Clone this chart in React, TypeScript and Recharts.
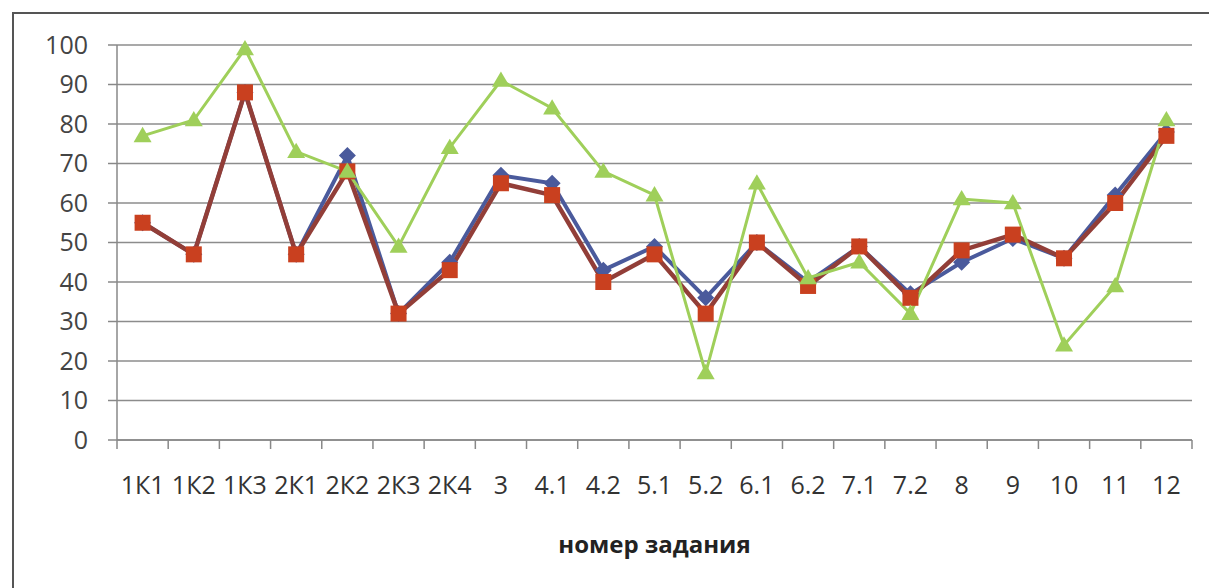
import { LineChart, Line, XAxis, YAxis, CartesianGrid, Label } from 'recharts'

const CATEGORIES = ['1К1', '1К2', '1К3', '2К1', '2К2', '2К3', '2К4', '3', '4.1', '4.2', '5.1', '5.2', '6.1', '6.2', '7.1', '7.2', '8', '9', '10', '11', '12']
const BLUE = [55, 47, 88, 47, 72, 32, 45, 67, 65, 43, 49, 36, 50, 40, 49, 37, 45, 51, 46, 62, 78]
const RED = [55, 47, 88, 47, 68, 32, 43, 65, 62, 40, 47, 32, 50, 39, 49, 36, 48, 52, 46, 60, 77]
const GREEN = [77, 81, 99, 73, 68, 49, 74, 91, 84, 68, 62, 17, 65, 41, 45, 32, 61, 60, 24, 39, 81]
const Y_TICKS = [0, 10, 20, 30, 40, 50, 60, 70, 80, 90, 100]
const AXIS_TITLE = 'номер задания'

const FONT = "'Open Sans', 'Noto Sans', sans-serif"
const AXIS_GRAY = '#888'
const TICK_MARGIN = 36

const data = CATEGORIES.map((name, i) => ({ name, blue: BLUE[i], red: RED[i], green: GREEN[i] }))

// label at the band centre, Excel-style tick marks on the band edges
const CategoryTick = (props: any) => {
  const { x, y, payload, index } = props
  const half = payload.offset || 0
  const y0 = y - TICK_MARGIN
  const last = index === CATEGORIES.length - 1
  return (
    <g>
      <line x1={x - half} x2={x - half} y1={y0} y2={y0 + 9} stroke={AXIS_GRAY} strokeWidth={1.5} />
      {last && <line x1={x + half} x2={x + half} y1={y0} y2={y0 + 9} stroke={AXIS_GRAY} strokeWidth={1.5} />}
      <text x={x} y={y} dy="0.71em" textAnchor="middle" fontSize={25} fill="#333" fontFamily={FONT}>
        {payload.value}
      </text>
    </g>
  )
}

const diamond = (props: any) => {
  const { cx, cy, index } = props
  if (cx == null || cy == null) return <g key={index} />
  const r = 8.5
  return (
    <path
      key={index}
      d={`M${cx},${cy - r} L${cx + r},${cy} L${cx},${cy + r} L${cx - r},${cy} Z`}
      fill="#4a5a9c"
    />
  )
}

const square = (props: any) => {
  const { cx, cy, index } = props
  if (cx == null || cy == null) return <g key={index} />
  const s = 16
  return <rect key={index} x={cx - s / 2} y={cy - s / 2} width={s} height={s} fill="#c9401f" />
}

const triangle = (props: any) => {
  const { cx, cy, index } = props
  if (cx == null || cy == null) return <g key={index} />
  const r = 9
  return (
    <path
      key={index}
      d={`M${cx},${cy - r} L${cx + r},${cy + r * 0.7} L${cx - r},${cy + r * 0.7} Z`}
      fill="#9fcf5a"
    />
  )
}

export default function App() {
  return (
    <div style={{ position: 'absolute', left: 0, top: 0, width: 1209, height: 588, background: '#fff', overflow: 'hidden' }}>
      <div
        style={{
          position: 'absolute',
          left: 12,
          top: 12,
          width: 1220,
          height: 600,
          borderTop: '2px solid #555',
          borderLeft: '2px solid #555',
        }}
      />
      <div style={{ position: 'absolute', left: 0, top: 0 }}>
        <LineChart width={1209} height={588} data={data} margin={{ top: 45, right: 17, bottom: 30, left: 17 }}>
          <CartesianGrid vertical={false} stroke="#8c8c8c" strokeWidth={1.5} />
          <XAxis
            dataKey="name"
            scale="band"
            interval={0}
            tickLine={false}
            tickSize={0}
            tickMargin={TICK_MARGIN}
            axisLine={{ stroke: AXIS_GRAY, strokeWidth: 1.5 }}
            tick={<CategoryTick />}
            height={118}
          >
            <Label
              value={AXIS_TITLE}
              position="insideBottom"
              offset={5}
              style={{ fontSize: 24, fontWeight: 700, fill: '#222', fontFamily: FONT }}
            />
          </XAxis>
          <YAxis
            domain={[0, 100]}
            ticks={Y_TICKS}
            width={100}
            tickSize={9}
            tickMargin={20}
            axisLine={{ stroke: AXIS_GRAY, strokeWidth: 1.5 }}
            tickLine={{ stroke: AXIS_GRAY, strokeWidth: 1.5 }}
            tick={{ fontSize: 25, fill: '#444', fontFamily: FONT }}
          />
          <Line dataKey="blue" stroke="#4a5a9c" strokeWidth={4} dot={diamond} activeDot={false} isAnimationActive={false} />
          <Line dataKey="red" stroke="#923e38" strokeWidth={4.5} dot={square} activeDot={false} isAnimationActive={false} />
          <Line dataKey="green" stroke="#9fcf5a" strokeWidth={3} dot={triangle} activeDot={false} isAnimationActive={false} />
        </LineChart>
      </div>
    </div>
  )
}
